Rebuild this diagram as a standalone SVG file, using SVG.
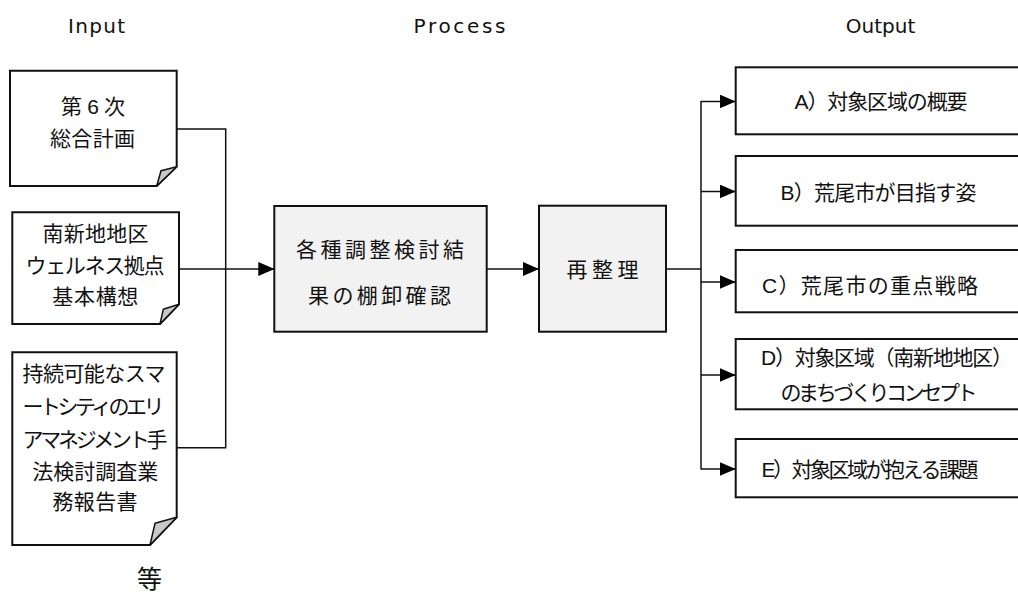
<svg xmlns="http://www.w3.org/2000/svg" width="1018" height="594" viewBox="0 0 1018 594">
  <style>
    .jp { font-family: "Liberation Sans", "Noto Sans CJK JP", sans-serif; font-size: 21px; fill: #111; dominant-baseline: central; text-anchor: middle; }
    .hdr { font-family: "DejaVu Sans", sans-serif; font-size: 20px; fill: #111; text-anchor: middle; }
    .doc { fill: #ffffff; stroke: #111; stroke-width: 2; stroke-linejoin: miter; }
    .curl { fill: #c8c8c8; stroke: #111; stroke-width: 1.5; stroke-linejoin: round; }
    .proc { fill: #f2f2f2; stroke: #111; stroke-width: 2; }
    .out { fill: #ffffff; stroke: #111; stroke-width: 2; }
    .wire { fill: none; stroke: #111; stroke-width: 1.5; }
  </style>
  <defs>
    <marker id="arrow" viewBox="0 0 16 14" refX="16" refY="7" markerWidth="16" markerHeight="14" markerUnits="userSpaceOnUse" orient="auto">
      <path d="M0,0 L16,7 L0,14 z" fill="#000"/>
    </marker>
  </defs>
  <rect width="1018" height="594" fill="#ffffff"/>

  <!-- column headings -->
  <g id="headings">
    <text class="hdr" x="96.5" y="33" textLength="57" lengthAdjust="spacing">Input</text>
    <text class="hdr" x="459.5" y="33" textLength="92" lengthAdjust="spacing">Process</text>
    <text class="hdr" x="880.5" y="33">Output</text>
  </g>

  <!-- connectors -->
  <g id="connectors">
    <polyline class="wire" points="176.7,129 225.7,129 225.7,447.7 176.7,447.7"/>
    <line class="wire" x1="179" y1="269" x2="274.3" y2="269" marker-end="url(#arrow)"/>
    <line class="wire" x1="486.7" y1="269" x2="539" y2="269" marker-end="url(#arrow)"/>
    <polyline class="wire" points="666,269 701,269"/>
    <line class="wire" x1="701" y1="101" x2="701" y2="469.5"/>
    <line class="wire" x1="701" y1="101.5" x2="735.7" y2="101.5" marker-end="url(#arrow)"/>
    <line class="wire" x1="701" y1="191.5" x2="735.7" y2="191.5" marker-end="url(#arrow)"/>
    <line class="wire" x1="701" y1="282" x2="735.7" y2="282" marker-end="url(#arrow)"/>
    <line class="wire" x1="701" y1="375" x2="735.7" y2="375" marker-end="url(#arrow)"/>
    <line class="wire" x1="701" y1="469" x2="735.7" y2="469" marker-end="url(#arrow)"/>
  </g>

  <!-- input documents -->
  <g id="doc-plan">
    <path class="doc" d="M10,70.7 H176.7 V166.7 L156.7,186 H10 Z"/>
    <path class="curl" d="M156.7,186 L176.7,166.7 L161,170.7 Z"/>
    <text class="jp" x="93" y="106" textLength="64" lengthAdjust="spacing">第 6 次</text>
    <text class="jp" x="92.5" y="138" textLength="85" lengthAdjust="spacing">総合計画</text>
  </g>
  <g id="doc-wellness">
    <path class="doc" d="M12.3,212.3 H179 V304.3 L160,324 H12.3 Z"/>
    <path class="curl" d="M160,324 L179,304.3 L163.3,309.3 Z"/>
    <text class="jp" x="95.5" y="233.3" textLength="106" lengthAdjust="spacing">南新地地区</text>
    <text class="jp" x="95" y="265.3" textLength="139" lengthAdjust="spacing">ウェルネス拠点</text>
    <text class="jp" x="95.3" y="296.5" textLength="86" lengthAdjust="spacing">基本構想</text>
  </g>
  <g id="doc-smartcity">
    <path class="doc" d="M12.3,352.3 H176.7 V517.3 L150,545 H12.3 Z"/>
    <path class="curl" d="M150,545 L176.7,517.3 L155,523.3 Z"/>
    <text class="jp" x="94" y="373.3" textLength="143" lengthAdjust="spacing">持続可能なスマ</text>
    <text class="jp" x="93.5" y="406.5" textLength="142" lengthAdjust="spacing">ートシティのエリ</text>
    <text class="jp" x="95" y="439.3" textLength="145" lengthAdjust="spacing">アマネジメント手</text>
    <text class="jp" x="95.3" y="471.7" textLength="126" lengthAdjust="spacing">法検討調査業</text>
    <text class="jp" x="95" y="501.7" textLength="85" lengthAdjust="spacing">務報告書</text>
  </g>
  <g id="etc">
    <text class="jp" x="149.5" y="579" style="font-size:25px">等</text>
  </g>

  <!-- process steps -->
  <g id="proc-review">
    <rect class="proc" x="274.3" y="206" width="212.4" height="125.7"/>
    <text class="jp" x="380" y="249" textLength="168" lengthAdjust="spacing">各種調整検討結</text>
    <text class="jp" x="379.5" y="295.7" textLength="143" lengthAdjust="spacing">果の棚卸確認</text>
  </g>
  <g id="proc-reorganize">
    <rect class="proc" x="539" y="205.7" width="127" height="126"/>
    <text class="jp" x="602.5" y="269" textLength="72" lengthAdjust="spacing">再整理</text>
  </g>

  <!-- outputs -->
  <g id="out-a">
    <rect class="out" x="735.7" y="67.3" width="300" height="67"/>
    <text class="jp" x="881" y="101.5" textLength="173" lengthAdjust="spacing">A）対象区域の概要</text>
  </g>
  <g id="out-b">
    <rect class="out" x="735.7" y="156" width="300" height="69.7"/>
    <text class="jp" x="878.5" y="192" textLength="196" lengthAdjust="spacing">B）荒尾市が目指す姿</text>
  </g>
  <g id="out-c">
    <rect class="out" x="735.7" y="250" width="300" height="62.3"/>
    <text class="jp" x="870" y="285" textLength="216" lengthAdjust="spacing">C）荒尾市の重点戦略</text>
  </g>
  <g id="out-d">
    <rect class="out" x="735.7" y="339" width="300" height="70.3"/>
    <text class="jp" x="761" y="357.5" textLength="252" lengthAdjust="spacing" style="text-anchor:start">D）対象区域（南新地地区）</text>
    <text class="jp" x="879" y="392" textLength="197" lengthAdjust="spacing">のまちづくりコンセプト</text>
  </g>
  <g id="out-e">
    <rect class="out" x="735.7" y="439" width="300" height="58.3"/>
    <text class="jp" x="870" y="469.5" textLength="217" lengthAdjust="spacing">E）対象区域が抱える課題</text>
  </g>
</svg>
